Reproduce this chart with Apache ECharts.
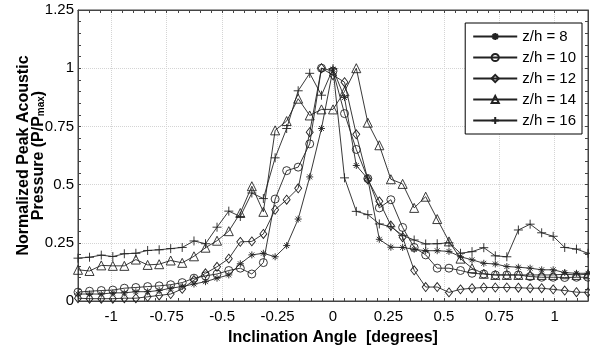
<!DOCTYPE html>
<html>
<head>
<meta charset="utf-8">
<script src="https://cdn.jsdelivr.net/npm/echarts@6/dist/echarts.min.js"></script>
<style>
    html,body{margin:0;padding:0;background:#fff;}
    #main{width:590px;height:347px;}
</style>
</head>
<body>
<div id="main"></div>
<script>
// inclination angle of each measurement [degrees]
var angles = [-1.150,-1.098,-1.045,-0.993,-0.941,-0.889,-0.836,-0.784,-0.732,-0.680,
    -0.627,-0.575,-0.523,-0.470,-0.418,-0.366,-0.314,-0.261,-0.209,-0.157,
    -0.105,-0.052,0.000,0.052,0.105,0.157,0.209,0.261,0.314,0.366,
    0.418,0.470,0.523,0.575,0.627,0.680,0.732,0.784,0.836,0.889,
    0.941,0.993,1.045,1.098,1.150];

var zh8 = [0.03,0.03,0.03,0.035,0.035,0.04,0.04,0.045,0.055,0.062,
    0.073,0.083,0.098,0.112,0.16,0.198,0.205,0.19,0.238,0.352,
    0.533,0.741,0.996,0.874,0.582,0.525,0.265,0.231,0.23,0.222,
    0.216,0.216,0.213,0.19,0.177,0.162,0.159,0.148,0.145,0.141,
    0.134,0.134,0.122,0.119,0.119];
var zh10 = [0.038,0.042,0.045,0.047,0.055,0.058,0.062,0.065,0.07,0.079,
    0.098,0.108,0.116,0.131,0.141,0.116,0.165,0.438,0.56,0.575,
    0.675,1.0,0.988,0.805,0.651,0.526,0.4,0.435,0.316,0.23,
    0.198,0.141,0.141,0.131,0.119,0.116,0.112,0.112,0.112,0.105,
    0.102,0.102,0.101,0.102,0.102];
var zh12 = [0.012,0.01,0.01,0.01,0.012,0.012,0.018,0.024,0.03,0.052,
    0.09,0.119,0.147,0.182,0.254,0.256,0.288,0.392,0.435,0.484,
    0.725,1.0,0.97,0.94,0.716,0.522,0.428,0.324,0.274,0.132,
    0.06,0.06,0.037,0.05,0.055,0.058,0.058,0.058,0.057,0.055,
    0.055,0.05,0.045,0.038,0.037];
var zh14 = [0.134,0.129,0.153,0.151,0.151,0.178,0.155,0.158,0.174,0.164,
    0.192,0.229,0.259,0.3,0.378,0.493,0.383,0.733,0.773,0.869,
    0.797,0.823,0.823,0.9,1.0,0.766,0.669,0.523,0.503,0.4,
    0.448,0.352,0.256,0.182,0.141,0.117,0.112,0.112,0.112,0.112,
    0.112,0.112,0.115,0.112,0.115];
var zh16 = [0.184,0.188,0.197,0.191,0.203,0.205,0.217,0.22,0.225,0.23,
    0.258,0.246,0.317,0.386,0.363,0.464,0.44,0.615,0.741,0.903,
    0.978,0.884,0.998,0.529,0.385,0.371,0.331,0.319,0.282,0.262,
    0.245,0.246,0.25,0.205,0.212,0.229,0.194,0.19,0.305,0.33,
    0.293,0.278,0.23,0.223,0.205];

var seriesNames = ['z/h = 8','z/h = 10','z/h = 12','z/h = 14','z/h = 16'];
var xTicks = [-1,-0.75,-0.5,-0.25,0,0.25,0.5,0.75,1];

var PLUS = 'path://M5,0L5,10M0,5L10,5';
var STAR = 'path://M5,0L5,10M0,5L10,5M1.5,1.5L8.5,8.5M8.5,1.5L1.5,8.5';

function initPressureChart(domId){
    var dom = document.getElementById(domId);
    var myChart = echarts.getInstanceByDom(dom);
    if(myChart){
        myChart.clear();
    }else{
        myChart = echarts.init(dom);
    }

    var font = 'Arial, "Liberation Sans", sans-serif';
    var axisColor = '#444';

    function pairs(vals){
        var out = [];
        for(var i=0;i<vals.length;i++){
            out.push([angles[i], vals[i]]);
        }
        return out;
    }

    function makeSeries(name, vals, symbol, size){
        return {
            name: name,
            type: 'line',
            data: pairs(vals),
            symbol: symbol,
            symbolSize: size,
            showAllSymbol: true,
            clip: false,
            lineStyle: {color: '#222', width: 0.9},
            itemStyle: {color: 'none', borderColor: '#222', borderWidth: 0.9},
            emphasis: {disabled: true},
            z: 3
        };
    }

    var isMajor = function(v){
        for(var i=0;i<xTicks.length;i++){
            if(Math.abs(v - xTicks[i]) < 1e-6) return true;
        }
        return false;
    };

    var option = {
        animation: false,
        textStyle: {fontFamily: font},
        grid: {
            left: 78,
            right: 2,
            top: 10,
            bottom: 46,
            outerBoundsMode: 'none',
            containLabel: false,
            show: true,
            borderColor: axisColor,
            borderWidth: 1
        },
        legend: {
            orient: 'vertical',
            right: 8,
            top: 23,
            backgroundColor: '#fff',
            borderColor: '#000',
            borderWidth: 1,
            padding: [6, 6, 6, 7],
            itemWidth: 44,
            itemHeight: 9,
            itemGap: 6,
            textStyle: {fontSize: 15, color: '#000', fontFamily: font, lineHeight: 15},
            data: seriesNames
        },
        xAxis: [{
            type: 'value',
            position: 'bottom',
            min: -1.15,
            max: 1.15,
            minInterval: 0.25,
            maxInterval: 0.25,
            name: 'Inclination Angle  [degrees]',
            nameLocation: 'middle',
            nameGap: 29,
            nameMoveOverlap: false,
            nameTextStyle: {fontSize: 16, fontWeight: 'bold', color: '#000', fontFamily: font},
            axisLine: {show: true, onZero: false, lineStyle: {color: axisColor}},
            axisTick: {show: false},
            axisLabel: {
                color: '#000',
                fontSize: 15,
                margin: 8,
                showMinLabel: false,
                showMaxLabel: false,
                formatter: function(v){ return isMajor(v) ? String(v) : ''; }
            },
            splitLine: {show: true, lineStyle: {color: '#d4d4d4', type: 'dotted', width: 1}}
        },{
            type: 'value',
            position: 'bottom',
            min: -1.15,
            max: 1.15,
            interval: 0.05,
            axisLine: {show: false, onZero: false},
            axisTick: {show: true, inside: true, length: 3, lineStyle: {color: axisColor}},
            axisLabel: {show: false},
            splitLine: {show: false}
        },{
            type: 'value',
            position: 'top',
            min: -1.15,
            max: 1.15,
            interval: 0.05,
            axisLine: {show: true, onZero: false, lineStyle: {color: axisColor}},
            axisTick: {show: true, inside: true, length: 3, lineStyle: {color: axisColor}},
            axisLabel: {show: false},
            splitLine: {show: false}
        }],
        yAxis: [{
            type: 'value',
            position: 'left',
            min: 0,
            max: 1.25,
            interval: 0.25,
            name: '{a|Normalized Peak Acoustic}\n{a|Pressure (P/P}{sub|max}{a|)}',
            nameLocation: 'middle',
            nameRotate: 90,
            nameGap: 32,
            nameMoveOverlap: false,
            nameTextStyle: {
                fontSize: 16,
                fontWeight: 'bold',
                color: '#000',
                fontFamily: font,
                rich: {
                    a: {fontSize: 16, fontWeight: 'bold', color: '#000', fontFamily: font,
                        lineHeight: 15, verticalAlign: 'top'},
                    sub: {fontSize: 10, color: '#000', fontFamily: font, lineHeight: 10,
                        verticalAlign: 'bottom', padding: [9, 0, 0, 0]}
                }
            },
            axisLine: {show: true, onZero: false, lineStyle: {color: axisColor}},
            axisTick: {show: true, inside: true, length: 3, lineStyle: {color: axisColor}},
            minorTick: {show: true, splitNumber: 5, length: 3, lineStyle: {color: axisColor}},
            axisLabel: {color: '#000', fontSize: 15, margin: 4},
            splitLine: {show: true, lineStyle: {color: '#d4d4d4', type: 'dotted', width: 1}}
        },{
            type: 'value',
            position: 'right',
            min: 0,
            max: 1.25,
            interval: 0.05,
            axisLine: {show: true, onZero: false, lineStyle: {color: axisColor}},
            axisTick: {show: true, inside: true, length: 3, lineStyle: {color: axisColor}},
            axisLabel: {show: false},
            splitLine: {show: false}
        }],
        series: [
            makeSeries(seriesNames[0], zh8, STAR, 7),
            makeSeries(seriesNames[1], zh10, 'circle', 8),
            makeSeries(seriesNames[2], zh12, 'diamond', [7, 9]),
            makeSeries(seriesNames[3], zh14, 'triangle', 9),
            makeSeries(seriesNames[4], zh16, PLUS, 9)
        ]
    };

    myChart.setOption(option);
    return myChart;
}

initPressureChart('main');
</script>
</body>
</html>
